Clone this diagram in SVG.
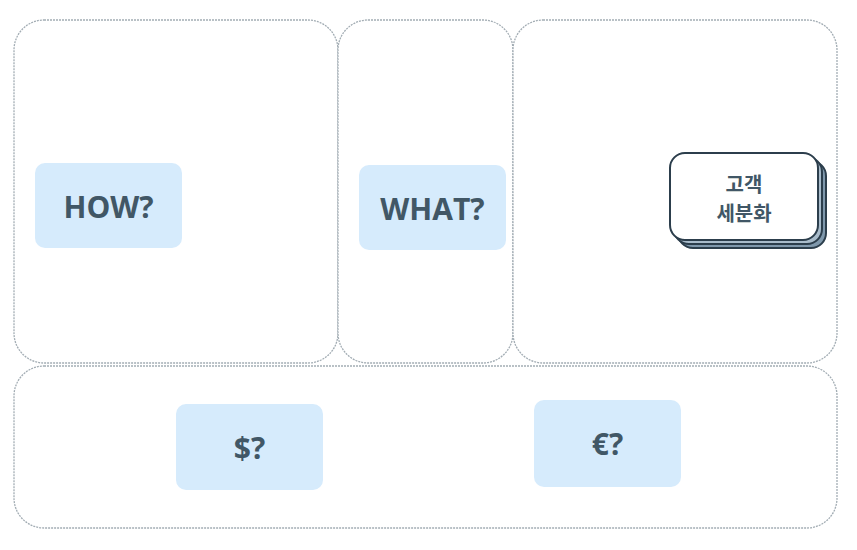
<svg xmlns="http://www.w3.org/2000/svg" width="857" height="550" viewBox="0 0 857 550">
<style>
.panel{fill:#fff;stroke:#a3adb4;stroke-width:1.3;stroke-dasharray:2 1}
.box{fill:#d6ebfc}
.lbl{font-family:"Open Sans","Noto Sans",sans-serif;font-weight:bold;font-size:30px;fill:#415766;text-anchor:middle;dominant-baseline:central}
.kr{font-family:"Noto Sans CJK KR",sans-serif;font-weight:bold;font-size:20px;fill:#415766;text-anchor:middle}
.card{stroke:#2c3e4c;stroke-width:2}
</style>
<rect width="857" height="550" fill="#fff"/>
<g id="panel-how"><rect class="panel" x="14" y="20" width="324" height="343" rx="30"/></g>
<g id="panel-what"><rect class="panel" x="338" y="20" width="175" height="343" rx="30"/></g>
<g id="panel-who"><rect class="panel" x="513" y="20" width="324" height="343" rx="30"/></g>
<g id="panel-money"><rect class="panel" x="14" y="366" width="823" height="162" rx="30"/></g>
<g id="how"><rect class="box" x="35" y="163" width="147" height="85" rx="10"/><text class="lbl" x="108.5" y="206">HOW?</text></g>
<g id="what"><rect class="box" x="359" y="165" width="147" height="85" rx="10"/><text class="lbl" x="432.5" y="208">WHAT?</text></g>
<g id="cost"><rect class="box" x="176" y="404" width="147" height="86" rx="10"/><text class="lbl" x="249.5" y="447">$?</text></g>
<g id="revenue"><rect class="box" x="534" y="400" width="147" height="87" rx="10"/><text class="lbl" x="607.5" y="443">€?</text></g>
<g id="segments">
<rect class="card" x="678" y="161" width="148" height="87" rx="15" fill="#7f98ac"/>
<rect class="card" x="674" y="157" width="148" height="87" rx="15" fill="#a9bccb"/>
<rect class="card" x="670" y="153" width="148" height="87" rx="15" fill="#fff"/>
<text class="kr" x="744" y="192">고객</text>
<text class="kr" x="744" y="221">세분화</text>
</g>
<g id="connectors"/>
</svg>
